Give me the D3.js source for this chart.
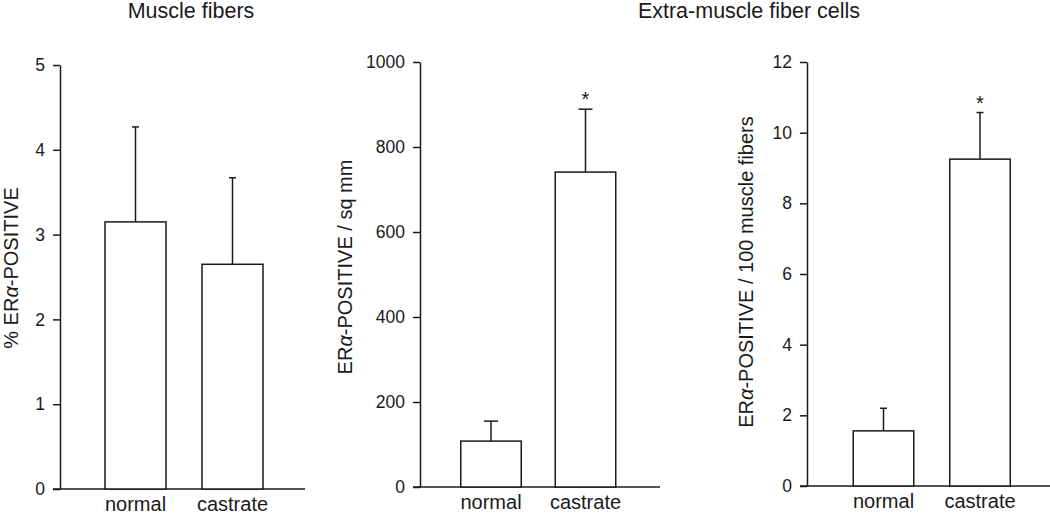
<!DOCTYPE html>
<html lang="en">
	<head>
		<meta charset="utf-8">
		<title>ERa-positive cells</title>
		<script src="https://d3js.org/d3.v7.min.js"></script>
		<style type="text/css">
		body { margin: 0; background: #fff; }
		svg text {
			font-family: "Liberation Sans", Arial, Helvetica, sans-serif;
			fill: #1a1a1a;
		}
		.tick line, .domain { stroke: #1a1a1a; stroke-width: 1.5px; }
		</style>
	</head>
	<body>
		<div id="chart"></div>
		<script>
			var width = 1050;
			var height = 514;

			// data
			var categories = ["normal", "castrate"];

			var fiberPct = [3.15, 2.65];
			var fiberPctErr = [1.12, 1.02];
			var fiberTicks = [0, 1, 2, 3, 4, 5];

			var perSqmm = [108, 741];
			var perSqmmErr = [47, 148];
			var perSqmmTicks = [0, 200, 400, 600, 800, 1000];

			var per100 = [1.56, 9.25];
			var per100Err = [0.64, 1.32];
			var per100Ticks = [0, 2, 4, 6, 8, 10, 12];

			var starred = [false, true];

			var svg = d3.select("#chart")
				.append("svg")
				.attr("width", width)
				.attr("height", height);

			// group titles
			svg.append("text")
				.attr("x", 191)
				.attr("y", 18)
				.attr("text-anchor", "middle")
				.style("font-size", "21.5px")
				.text("Muscle fibers");

			svg.append("text")
				.attr("x", 749)
				.attr("y", 18)
				.attr("text-anchor", "middle")
				.style("font-size", "21.5px")
				.text("Extra-muscle fiber cells");

			var panels = [
				{ values: fiberPct, errs: fiberPctErr, ticks: fiberTicks, stars: false,
				  axisX: 60, xEnd: 305, yRange: [489, 65], band: [87, 281], barW: 61, cap: 7,
				  labelX: 18, labelY: 268, labelPre: "% ER", labelPost: "-POSITIVE" },
				{ values: perSqmm, errs: perSqmmErr, ticks: perSqmmTicks, stars: true,
				  axisX: 420, xEnd: 660, yRange: [487, 62], band: [443.75, 632.75], barW: 60.5, cap: 14,
				  labelX: 352, labelY: 267, labelPre: "ER", labelPost: "-POSITIVE / sq mm" },
				{ values: per100, errs: per100Err, ticks: per100Ticks, stars: true,
				  axisX: 807, xEnd: 1050, yRange: [486, 62], band: [835.25, 1028.25], barW: 60.5, cap: 7,
				  labelX: 753, labelY: 272, labelPre: "ER", labelPost: "-POSITIVE / 100 muscle fibers" }
			];

			panels.forEach(function(p) {
				var y = d3.scaleLinear()
					.domain([0, d3.max(p.ticks)])
					.range(p.yRange);

				var step = (p.band[1] - p.band[0]) / categories.length;
				var pad = 1 - p.barW / step;
				var x = d3.scaleBand()
					.domain(categories)
					.range(p.band)
					.paddingInner(pad)
					.paddingOuter(pad / 2);

				var g = svg.append("g");

				// y axis
				g.append("g")
					.attr("transform", "translate(" + p.axisX + ",0)")
					.call(d3.axisLeft(y)
						.tickValues(p.ticks)
						.tickFormat(d3.format("d"))
						.tickSize(7)
						.tickSizeOuter(0)
						.tickPadding(8))
					.call(function(a) {
						a.selectAll("text").style("font-size", "17.5px");
					});

				// x axis baseline
				g.append("line")
					.attr("x1", p.axisX - 7)
					.attr("x2", p.xEnd)
					.attr("y1", y(0))
					.attr("y2", y(0))
					.attr("stroke", "#1a1a1a")
					.attr("stroke-width", 1.5);

				// category labels
				g.append("g")
					.attr("transform", "translate(0," + y(0) + ")")
					.call(d3.axisBottom(x).tickSize(0).tickPadding(8))
					.call(function(a) {
						a.select(".domain").remove();
						a.selectAll("text").style("font-size", "20px");
					});

				var rows = categories.map(function(c, i) {
					return { cat: c, v: p.values[i], e: p.errs[i], star: p.stars && starred[i] };
				});

				// error bars (upper whisker only)
				g.selectAll(".whisker")
					.data(rows)
					.enter().append("line")
					.attr("class", "whisker")
					.attr("x1", function(d) { return x(d.cat) + x.bandwidth() / 2; })
					.attr("x2", function(d) { return x(d.cat) + x.bandwidth() / 2; })
					.attr("y1", function(d) { return y(d.v); })
					.attr("y2", function(d) { return y(d.v + d.e); })
					.attr("stroke", "#1a1a1a")
					.attr("stroke-width", 1.5);

				g.selectAll(".cap")
					.data(rows)
					.enter().append("line")
					.attr("class", "cap")
					.attr("x1", function(d) { return x(d.cat) + x.bandwidth() / 2 - p.cap / 2; })
					.attr("x2", function(d) { return x(d.cat) + x.bandwidth() / 2 + p.cap / 2; })
					.attr("y1", function(d) { return y(d.v + d.e); })
					.attr("y2", function(d) { return y(d.v + d.e); })
					.attr("stroke", "#1a1a1a")
					.attr("stroke-width", 1.5);

				// bars
				g.selectAll(".bar")
					.data(rows)
					.enter().append("rect")
					.attr("class", "bar")
					.attr("x", function(d) { return x(d.cat); })
					.attr("width", x.bandwidth())
					.attr("y", function(d) { return y(d.v); })
					.attr("height", function(d) { return y(0) - y(d.v); })
					.attr("fill", "#fff")
					.attr("stroke", "#1a1a1a")
					.attr("stroke-width", 1.5);

				// significance marks
				g.selectAll(".star")
					.data(rows.filter(function(d) { return d.star; }))
					.enter().append("text")
					.attr("class", "star")
					.attr("x", function(d) { return x(d.cat) + x.bandwidth() / 2; })
					.attr("y", function(d) { return y(d.v + d.e) - 3; })
					.attr("text-anchor", "middle")
					.style("font-size", "20px")
					.text("*");

				// y label
				var lab = g.append("text")
					.attr("transform", "translate(" + p.labelX + "," + p.labelY + ") rotate(-90)")
					.attr("text-anchor", "middle")
					.style("font-size", "20px");
				lab.append("tspan").text(p.labelPre);
				lab.append("tspan").style("font-style", "italic").text("\u03b1");
				lab.append("tspan").text(p.labelPost);
			});
		</script>
	</body>
</html>
